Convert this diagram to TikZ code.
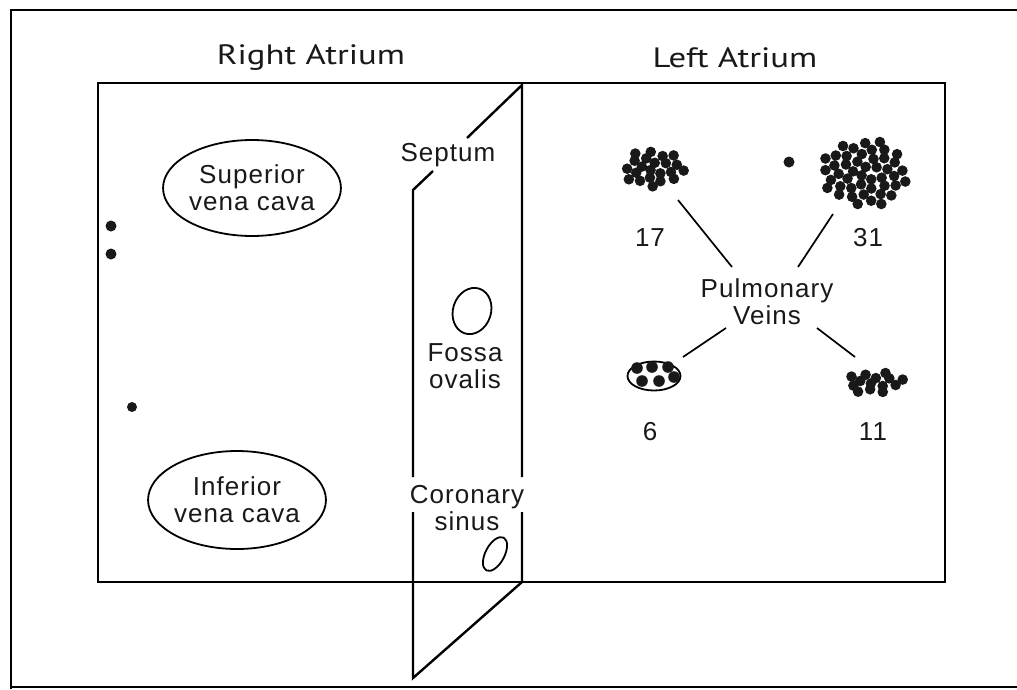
\documentclass[tikz,border=0pt]{standalone}
\usepackage{fontspec}
\setmainfont{Liberation Sans}
\newfontfamily\lblfont[LetterSpace=4]{Liberation Sans}
\newfontfamily\titlefont{PT Sans}
\usetikzlibrary{shapes.geometric}

% a rounded cloud of vein openings (sunflower packing inside an ellipse)
% #1,#2 centre, #3,#4 half extents of the dot centres, #5 number of dots
\newcommand\pulmcluster[5]{%
  \foreach \k in {1,...,#5} {%
    \pgfmathsetmacro\vrr{sqrt((\k-0.5)/#5)}%
    \pgfmathsetmacro\vth{\k*137.508}%
    \fill[vdot] ({#1+#3*\vrr*cos(\vth)},{#2+#4*\vrr*sin(\vth)}) circle (5.3);
  }%
}

\begin{document}
\begin{tikzpicture}[x=1pt,y=-1pt,
  frame/.style={line width=2.2pt, black},
  wall/.style={line width=2.4pt, black, line join=miter},
  vessel/.style={draw, line width=1.8pt, ellipse, inner sep=0pt},
  lbl/.style={font=\lblfont\fontsize{26}{27}\selectfont, text=black!90, align=center, inner sep=0pt},
  ttl/.style={font=\titlefont\fontsize{28}{30}\selectfont, text=black!90, inner sep=0pt},
  lead/.style={line width=1.7pt, black},
  vdot/.style={fill=black!90}]

\useasboundingbox (0,0) rectangle (1017,689);
\fill[white] (0,0) rectangle (1017,689);

% page frame
\draw[frame] (11,689) -- (11,10) -- (1017,10);
\draw[frame] (12,687) -- (1017,687);

% titles
\node[ttl] (ra) at (311,58) {\scalebox{1.24}[1]{Right Atrium}};
\node[ttl] (la) at (735,58) {\scalebox{1.24}[1]{Left Atrium}};

% atria box
\draw[frame] (98,83) rectangle (945,582);

% right atrium
\node[vessel, lbl, minimum width=158pt, minimum height=96pt] (svc) at (252,188) {Superior\\vena cava};
\node[vessel, lbl, minimum width=160pt, minimum height=98pt] (ivc) at (237,500) {Inferior\\vena cava};
\fill[vdot] (111,226) circle (5.5);
\fill[vdot] (111,254) circle (5.5);
\fill[vdot] (132,407) circle (5);

% septum plane
\coordinate (stl) at (413,190);
\coordinate (str) at (522,85);
\coordinate (sbl) at (413,678);
\coordinate (sbr) at (522,582);
\node[lbl] (sep) at (448,155) {Septum};
\node[lbl] (fol) at (465,366) {Fossa\\ovalis};
\node[lbl] (csl) at (467,508) {Coronary\\sinus};
\coordinate (sepA) at (467,138);
\coordinate (sepB) at (433,171);
\draw[wall] (sepA) -- (str) -- (522,477);
\draw[wall] (sepB) -- (stl) -- (413,477);
\draw[wall] (413,512) -- (sbl) -- (sbr) -- (522,512);
\node[vessel, minimum width=38pt, minimum height=47pt, rotate=-18] (fo) at (472,311) {};
\node[vessel, minimum width=19pt, minimum height=37pt, rotate=-28] (cs) at (495,554) {};

% left atrium: pulmonary veins
\pulmcluster{654}{168}{31}{20}{22}
\fill[vdot] (789,162) circle (5.5);
\pulmcluster{865}{173}{44}{34}{46}
\node[vessel, minimum width=53pt, minimum height=29pt] (v6) at (654,376) {};
\foreach \p in {(637,368),(652,367),(668,367),(642,381),(659,381),(674,377)}
  \fill[vdot] \p circle (5.8);
\pulmcluster{875}{382}{30}{12}{14}

\node[lbl] (n17) at (650,238) {17};
\node[lbl] (n31) at (868,238) {31};
\node[lbl] (n6)  at (650,432) {6};
\node[lbl] (n11) at (873,432) {11};
\node[lbl] (pv)  at (767,302) {Pulmonary\\Veins};

\coordinate (c17) at (678,200);
\coordinate (c31) at (833,214);
\coordinate (c6)  at (683,357);
\coordinate (c11) at (855,357);
\coordinate (p1) at (732,267);
\coordinate (p2) at (798,267);
\coordinate (p3) at (726,328);
\coordinate (p4) at (817,328);
\draw[lead] (c17) -- (p1);
\draw[lead] (c31) -- (p2);
\draw[lead] (p3) -- (c6);
\draw[lead] (p4) -- (c11);
\end{tikzpicture}
\end{document}
